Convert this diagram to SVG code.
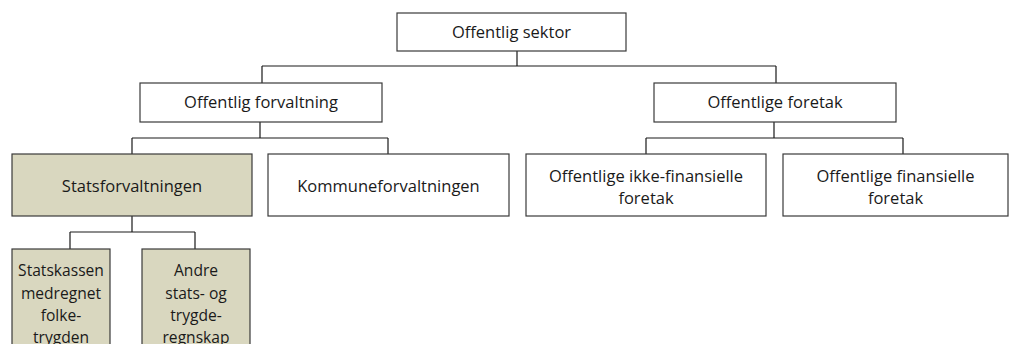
<svg xmlns="http://www.w3.org/2000/svg" width="1016" height="344" viewBox="0 0 1016 344">
<style>
.box{fill:#ffffff;stroke:#3a3a3a;stroke-width:1.2}
.sh{fill:#d9d7bf;stroke:#3a3a3a;stroke-width:1.2}
text{font-family:"Open Sans","Noto Sans",sans-serif;font-size:16.5px;fill:#1a1a1a;text-anchor:middle}
.sm{font-size:15.6px}
.con{fill:none;stroke:#1a1a1a;stroke-width:1.2}
</style>
<rect width="1016" height="344" fill="#ffffff"/>
<g id="connectors">
<path class="con" d="M517 51V66M262 66H776M262 66V83M776 66V83"/>
<path class="con" d="M260 122V138M132 138H388M132 138V154M388 138V154"/>
<path class="con" d="M774 122V138M646 138H903M646 138V154M903 138V154"/>
<path class="con" d="M132 216V232M70 232H195M70 232V249M195 232V249"/>
</g>
<g id="n_sektor"><rect class="box" x="397" y="13" width="229" height="38"/><text x="511.5" y="38">Offentlig sektor</text></g>
<g id="n_forvaltning"><rect class="box" x="140" y="83" width="242" height="39"/><text x="261" y="108">Offentlig forvaltning</text></g>
<g id="n_foretak"><rect class="box" x="654" y="83" width="242" height="39"/><text x="775" y="108">Offentlige foretak</text></g>
<g id="n_stats"><rect class="sh" x="12" y="154" width="240" height="62"/><text x="132" y="192">Statsforvaltningen</text></g>
<g id="n_kommune"><rect class="box" x="268" y="154" width="241" height="62"/><text x="388.5" y="192">Kommuneforvaltningen</text></g>
<g id="n_ikkefin"><rect class="box" x="526" y="154" width="240" height="62"/><text x="646" y="182">Offentlige ikke-finansielle</text><text x="646" y="204">foretak</text></g>
<g id="n_fin"><rect class="box" x="783" y="154" width="225" height="62"/><text x="895.5" y="182">Offentlige finansielle</text><text x="895.5" y="204">foretak</text></g>
<g id="n_statskassen"><rect class="sh" x="12" y="249" width="98" height="100"/><text class="sm" x="61" y="276">Statskassen</text><text class="sm" x="61" y="299">medregnet</text><text class="sm" x="61" y="321">folke-</text><text class="sm" x="61" y="343">trygden</text></g>
<g id="n_andre"><rect class="sh" x="142" y="249" width="108" height="100"/><text class="sm" x="196" y="276">Andre</text><text class="sm" x="196" y="299">stats- og</text><text class="sm" x="196" y="321">trygde-</text><text class="sm" x="196" y="343">regnskap</text></g>
</svg>
